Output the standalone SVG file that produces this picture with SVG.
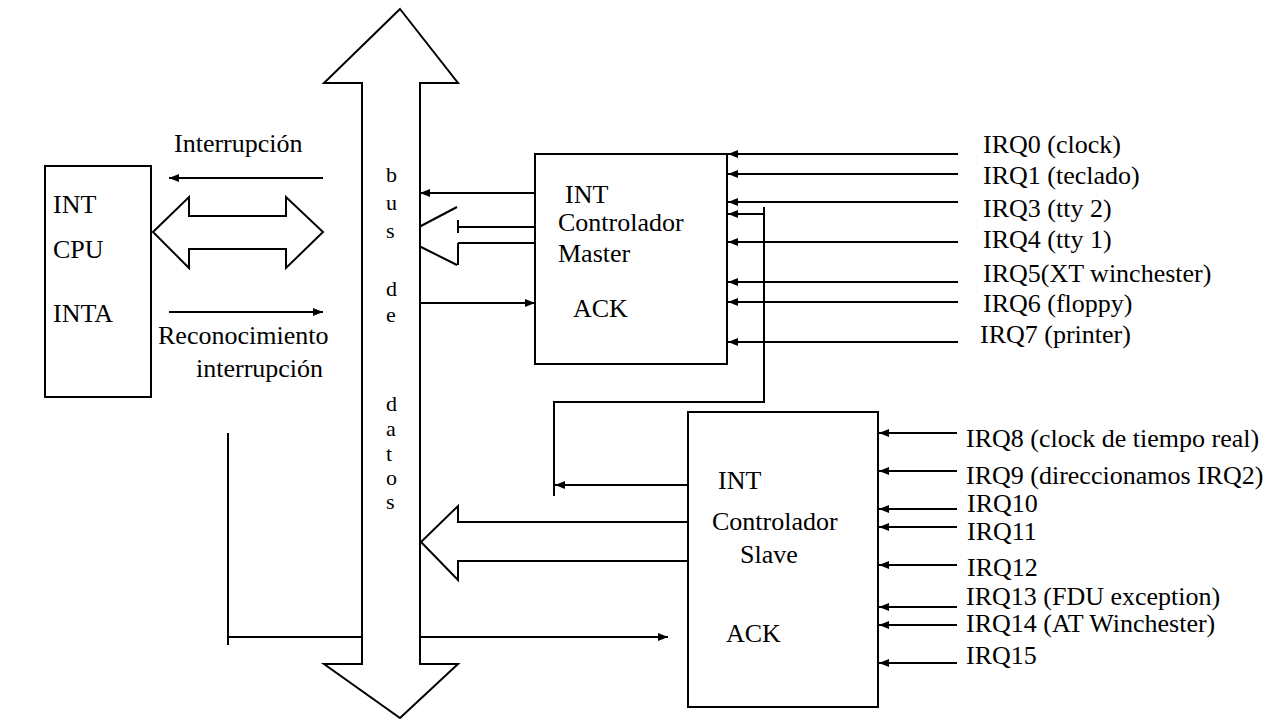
<svg xmlns="http://www.w3.org/2000/svg" width="1274" height="719" viewBox="0 0 1274 719" font-family="'Liberation Serif', 'Times New Roman', 'DejaVu Serif', serif">
<defs>
<marker id="ah" viewBox="0 0 10 8" refX="10" refY="4" markerWidth="10" markerHeight="8" markerUnits="userSpaceOnUse" orient="auto">
<path d="M0,0 L10,4 L0,8 Z" fill="#000"/>
</marker>
</defs>
<style>
text{font-family:'Liberation Serif','Times New Roman','DejaVu Serif',serif;font-size:26px;fill:#000}
.bl{font-size:22px}
.box{fill:#fff;stroke:#000;stroke-width:2}
.ln{fill:none;stroke:#000;stroke-width:2}
.ar{fill:none;stroke:#000;stroke-width:2;marker-end:url(#ah)}
</style>
<rect width="1274" height="719" fill="#fff"/>
<g id="connectors">
<line class="ln" x1="228" y1="433" x2="228" y2="645"/>
<line class="ar" x1="228" y1="637" x2="668" y2="637"/>
<line class="ar" x1="323" y1="178" x2="169" y2="178"/>
<line class="ar" x1="169" y1="312" x2="323" y2="312"/>
<polygon class="ln" points="153,232 189,197 189,216 286,216 286,197 323,232 286,268 286,249 189,249 189,268"/>
<line class="ar" x1="535" y1="193" x2="420" y2="193"/>
<line class="ar" x1="420" y1="303" x2="535" y2="303"/>
<path class="ln" d="M419,227 L457,207 M458,220 L458,233 M458,227 L535,227 M419,246 L457,265 M458,243 L458,265 M458,243 L535,243"/>
<line class="ar" x1="958" y1="154" x2="728" y2="154"/>
<line class="ar" x1="958" y1="174" x2="728" y2="174"/>
<line class="ar" x1="958" y1="202" x2="728" y2="202"/>
<line class="ar" x1="764" y1="214" x2="728" y2="214"/>
<line class="ar" x1="958" y1="242" x2="728" y2="242"/>
<line class="ar" x1="958" y1="282" x2="728" y2="282"/>
<line class="ar" x1="958" y1="302" x2="728" y2="302"/>
<line class="ar" x1="958" y1="342" x2="728" y2="342"/>
<polyline class="ln" points="764,207 764,402 554,402 554,496"/>
<line class="ar" x1="688" y1="485" x2="555" y2="485"/>
<polyline class="ln" points="688,522 458,522 458,506 421,542 458,580 458,561 688,561"/>
<line class="ar" x1="957" y1="433" x2="879" y2="433"/>
<line class="ar" x1="957" y1="471" x2="879" y2="471"/>
<line class="ar" x1="957" y1="509" x2="879" y2="509"/>
<line class="ar" x1="957" y1="527" x2="879" y2="527"/>
<line class="ar" x1="957" y1="565" x2="879" y2="565"/>
<line class="ar" x1="957" y1="607" x2="879" y2="607"/>
<line class="ar" x1="957" y1="625" x2="879" y2="625"/>
<line class="ar" x1="957" y1="663" x2="879" y2="663"/>
<text x="174" y="152">Interrupción</text>
<text x="158" y="344">Reconocimiento</text>
<text x="196" y="377">interrupción</text>
<text x="983" y="153">IRQ0 (clock)</text>
<text x="983" y="184">IRQ1 (teclado)</text>
<text x="983" y="217">IRQ3 (tty 2)</text>
<text x="983" y="248">IRQ4 (tty 1)</text>
<text x="983" y="282">IRQ5(XT winchester)</text>
<text x="983" y="312">IRQ6 (floppy)</text>
<text x="980" y="343">IRQ7 (printer)</text>
<text x="966" y="447">IRQ8 (clock de tiempo real)</text>
<text x="966" y="484">IRQ9 (direccionamos IRQ2)</text>
<text x="967" y="512">IRQ10</text>
<text x="967" y="540">IRQ11</text>
<text x="967" y="576">IRQ12</text>
<text x="966" y="605">IRQ13 (FDU exception)</text>
<text x="966" y="632">IRQ14 (AT Winchester)</text>
<text x="966" y="664">IRQ15</text>
</g>
<g id="bus">
<path class="box" d="M400,9 L458,83 L420,83 L420,664 L458,664 L400,718 L324,664 L362,664 L362,83 L324,83 Z"/>
<text class="bl" x="386" y="182">b</text>
<text class="bl" x="386" y="210">u</text>
<text class="bl" x="386" y="238">s</text>
<text class="bl" x="386" y="296">d</text>
<text class="bl" x="386" y="322">e</text>
<text class="bl" x="386" y="411">d</text>
<text class="bl" x="386" y="436">a</text>
<text class="bl" x="386" y="461">t</text>
<text class="bl" x="386" y="485">o</text>
<text class="bl" x="386" y="509">s</text>
</g>
<g id="cpu">
<rect class="box" x="45" y="166" width="106" height="231"/>
<text x="53" y="213">INT</text>
<text x="53" y="258">CPU</text>
<text x="53" y="322">INTA</text>
</g>
<g id="master">
<rect class="box" x="535" y="154" width="192" height="210"/>
<text x="565" y="203">INT</text>
<text x="558" y="231">Controlador</text>
<text x="558" y="262">Master</text>
<text x="573" y="317">ACK</text>
</g>
<g id="slave">
<rect class="box" x="688" y="412" width="190" height="295"/>
<text x="718" y="489">INT</text>
<text x="712" y="530">Controlador</text>
<text x="740" y="563">Slave</text>
<text x="726" y="642">ACK</text>
</g>
</svg>
